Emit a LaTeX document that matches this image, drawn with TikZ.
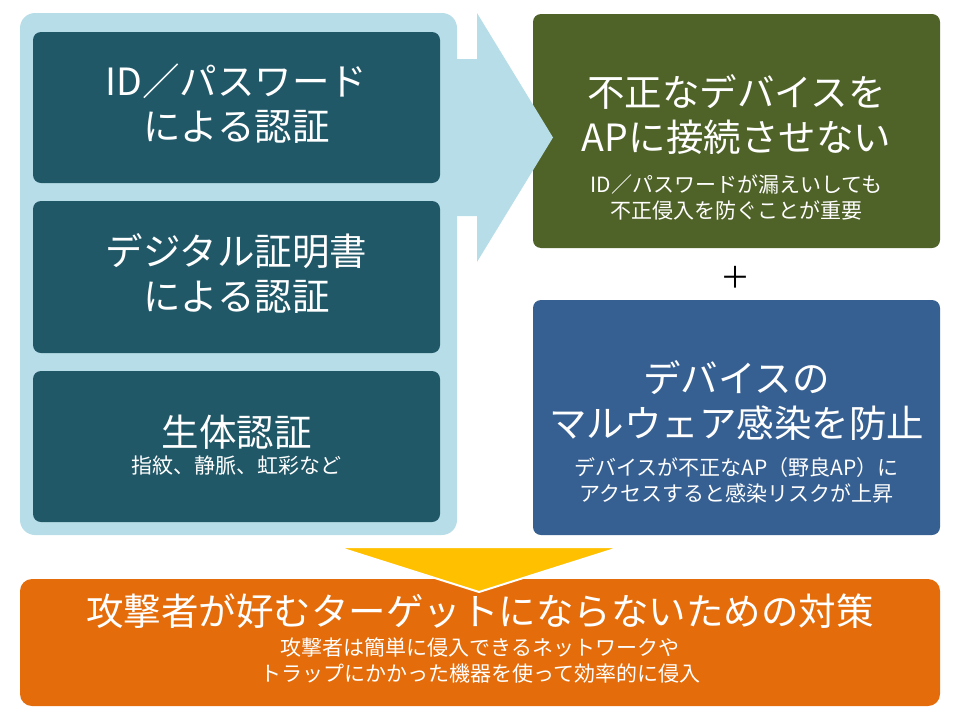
\documentclass[tikz,border=0pt]{standalone}
\usepackage{fontspec}
\setmainfont{Noto Sans CJK JP}
\definecolor{paleblue}{HTML}{B7DEE8}
\definecolor{darkteal}{HTML}{215868}
\definecolor{mossgreen}{HTML}{4F6228}
\definecolor{steelblue}{HTML}{376092}
\definecolor{goldyellow}{HTML}{FFC000}
\definecolor{burntorange}{HTML}{E46C0A}
\begin{document}
\begin{tikzpicture}[x=1pt,y=-1pt,
  panel/.style={fill=#1, rounded corners=8pt, minimum width=407pt, inner sep=0pt},
  bigtext/.style={text=white, align=center, font=\fontsize{37.5}{45}\selectfont},
  smalltext/.style={text=white, align=center, font=\fontsize{21}{26}\selectfont}]
\useasboundingbox (0,0) rectangle (960,720);
\node[fill=paleblue, rounded corners=15pt, minimum width=437pt, minimum height=522pt, inner sep=0pt] (auth) at (238.5,274) {};
\node[panel=darkteal, minimum height=151pt] (idpw) at (236.5,107.5) {};
\node[panel=darkteal, minimum height=152pt] (cert) at (236.5,277) {};
\node[panel=darkteal, minimum height=151pt] (bio) at (236.5,446.5) {};
\node[panel=mossgreen, minimum height=234pt] (block) at (736.5,131) {};
\node[panel=steelblue, minimum height=235pt] (malware) at (736.5,417.5) {};
\node[fill=burntorange, rounded corners=12pt, minimum width=920pt, minimum height=127pt, inner sep=0pt] (target) at (480,642.5) {};
\fill[paleblue] (450,59) -- (477,59) -- (477,13) -- (553,137.5) -- (477,262) -- (477,216) -- (450,216) -- cycle;
\filldraw[fill=goldyellow, draw=white, line width=2pt] (337,547) -- (621,547) -- (479,592) -- cycle;
\node[bigtext] (idpwtext) at (236.5,104) {ID／パスワード\\による認証};
\node[bigtext] (certtext) at (236.5,274) {デジタル証明書\\による認証};
\node[bigtext] (biotext) at (236.5,432) {生体認証};
\node[smalltext] (bionote) at (236.5,466) {指紋、静脈、虹彩など};
\node[bigtext] (blocktext) at (736.5,114.5) {不正なデバイスを\\APに接続させない};
\node[smalltext] (blocknote) at (736.5,197) {ID／パスワードが漏えいしても\\不正侵入を防ぐことが重要};
\node[font=\fontsize{30}{36}\selectfont] (plus) at (735,277.5) {＋};
\node[bigtext] (malwaretext) at (736.5,401) {デバイスの\\マルウェア感染を防止};
\node[smalltext] (malwarenote) at (736.5,480.5) {デバイスが不正なAP（野良AP）に\\アクセスすると感染リスクが上昇};
\node[bigtext] (targettext) at (480,611) {攻撃者が好むターゲットにならないための対策};
\node[smalltext] (targetnote) at (480,660) {攻撃者は簡単に侵入できるネットワークや\\トラップにかかった機器を使って効率的に侵入};
\end{tikzpicture}
\end{document}
